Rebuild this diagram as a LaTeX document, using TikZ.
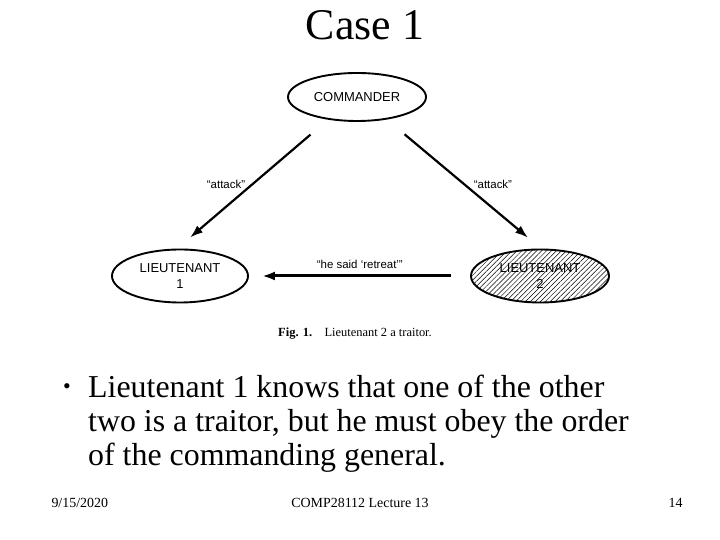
\documentclass[tikz,border=0pt]{standalone}
\usepackage{fontspec}
\setmainfont{Liberation Serif}
\newfontfamily\diagfont{Liberation Sans}
\usetikzlibrary{arrows.meta,positioning,shapes.geometric,patterns.meta}

\begin{document}
\begin{tikzpicture}[x=1bp,y=1bp,
    general/.style={ellipse,draw,line width=1.9bp,inner sep=0pt,align=center,
      minimum width=138bp,minimum height=53bp,
      font=\diagfont\fontsize{13}{16}\selectfont},
    order/.style={draw,line width=2.2bp,-{Latex[length=13bp,width=9bp]}},
    msg/.style={font=\diagfont\fontsize{11.5}{13}\selectfont}]
      \useasboundingbox (0,0) rectangle (720,540);
      \node (title) [anchor=base] at (365,500) {\fontsize{44}{50}\selectfont Case 1};
      \begin{scope}
        \node (cmd) [general,minimum height=48bp] at (357,443) {COMMANDER};
        \node (lt1) [general,minimum width=136bp] at (180,264) {LIEUTENANT\\1};
        \node (lt2) [general,pattern={Lines[angle=45,distance=3.5bp,line width=0.5bp]}]
          at (540,264) {LIEUTENANT\\2};
      \end{scope}
      \begin{scope}
        \draw[order,shorten <=23bp,shorten >=17bp] (cmd.218)
          -- node[msg,left=3bp] {“attack”} (lt1.96);
        \draw[order,shorten <=23bp,shorten >=18bp] (cmd.323)
          -- node[msg,right=5bp] {“attack”} (lt2.86);
        \draw[order,line width=3bp,shorten <=20bp,shorten >=13bp] (lt2.west)
          -- node[msg,above=3bp] {“he said ‘retreat’”} (lt1.east);
      \end{scope}
      \node (caption) at (355,206) {\fontsize{12.5}{14}\selectfont\textbf{Fig. 1.}\quad Lieutenant 2 a traitor.};
      % bullet point
      \node (dot) [anchor=base,inner sep=0pt] at (67,146) {\fontsize{22}{24}\selectfont\textbullet};
      \node (body) [anchor=north west,inner sep=0pt,align=left,
        font=\fontsize{32}{34}\selectfont] at (88,165)
        {Lieutenant 1 knows that one of the other\\
         two is a traitor, but he must obey the order\\
         of the commanding general.};
      % footer
      \begin{scope}[every node/.style={font=\fontsize{14}{16}\selectfont,anchor=base}]
        \node (date) [anchor=base west] at (48,32) {9/15/2020};
        \node (course) at (360,32) {COMP28112 Lecture 13};
        \node (page) [anchor=base east] at (686,32) {14};
      \end{scope}
    \end{tikzpicture}
\end{document}
